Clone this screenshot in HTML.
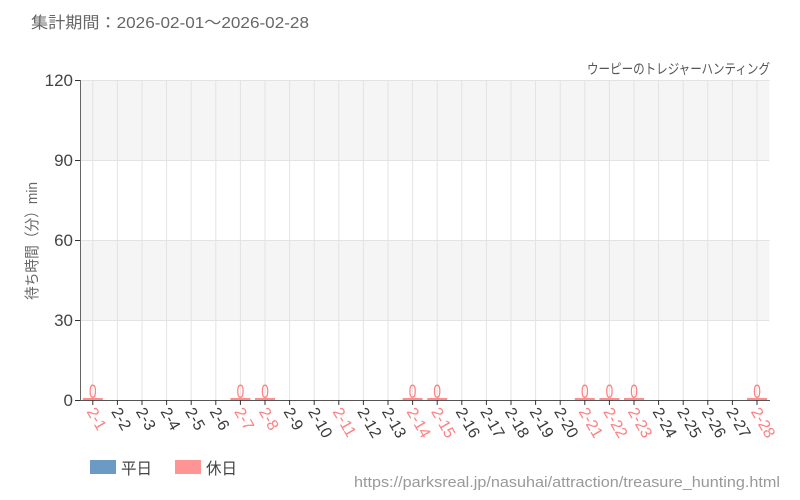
<!DOCTYPE html>
<html><head><meta charset="utf-8"><style>
html,body{margin:0;padding:0;background:#fff;}
svg{display:block;}
text{font-family:"Liberation Sans","Noto Sans CJK JP",sans-serif;}
</style></head><body>
<svg width="800" height="500" viewBox="0 0 800 500" xmlns="http://www.w3.org/2000/svg">
<rect x="0" y="0" width="800" height="500" fill="#fff"/>
<text x="31" y="28" font-size="16" fill="#666" textLength="278" lengthAdjust="spacingAndGlyphs">集計期間：2026-02-01～2026-02-28</text>
<text x="770" y="74" font-size="14" fill="#555" text-anchor="end" textLength="183" lengthAdjust="spacingAndGlyphs">ウーピーのトレジャーハンティング</text>
<rect x="80.5" y="80" width="689" height="80" fill="#f5f5f5"/>
<rect x="80.5" y="240" width="689" height="80" fill="#f5f5f5"/>
<g stroke="#e3e3e3" stroke-width="1">
<line x1="80.5" y1="80.5" x2="769.5" y2="80.5"/>
<line x1="80.5" y1="160.5" x2="769.5" y2="160.5"/>
<line x1="80.5" y1="240.5" x2="769.5" y2="240.5"/>
<line x1="80.5" y1="320.5" x2="769.5" y2="320.5"/>
</g>
<g stroke="#e3e3e3" stroke-width="1">
<line x1="92.8" y1="80" x2="92.8" y2="400"/><line x1="117.4" y1="80" x2="117.4" y2="400"/><line x1="142.0" y1="80" x2="142.0" y2="400"/><line x1="166.6" y1="80" x2="166.6" y2="400"/><line x1="191.2" y1="80" x2="191.2" y2="400"/><line x1="215.8" y1="80" x2="215.8" y2="400"/><line x1="240.4" y1="80" x2="240.4" y2="400"/><line x1="265.0" y1="80" x2="265.0" y2="400"/><line x1="289.6" y1="80" x2="289.6" y2="400"/><line x1="314.2" y1="80" x2="314.2" y2="400"/><line x1="338.8" y1="80" x2="338.8" y2="400"/><line x1="363.4" y1="80" x2="363.4" y2="400"/><line x1="388.0" y1="80" x2="388.0" y2="400"/><line x1="412.6" y1="80" x2="412.6" y2="400"/><line x1="437.2" y1="80" x2="437.2" y2="400"/><line x1="461.8" y1="80" x2="461.8" y2="400"/><line x1="486.4" y1="80" x2="486.4" y2="400"/><line x1="511.0" y1="80" x2="511.0" y2="400"/><line x1="535.6" y1="80" x2="535.6" y2="400"/><line x1="560.2" y1="80" x2="560.2" y2="400"/><line x1="584.8" y1="80" x2="584.8" y2="400"/><line x1="609.4" y1="80" x2="609.4" y2="400"/><line x1="634.0" y1="80" x2="634.0" y2="400"/><line x1="658.6" y1="80" x2="658.6" y2="400"/><line x1="683.2" y1="80" x2="683.2" y2="400"/><line x1="707.8" y1="80" x2="707.8" y2="400"/><line x1="732.4" y1="80" x2="732.4" y2="400"/><line x1="757.0" y1="80" x2="757.0" y2="400"/>
</g>
<line x1="80.5" y1="80" x2="80.5" y2="400" stroke="#666" stroke-width="1"/>
<line x1="80" y1="400.5" x2="770" y2="400.5" stroke="#555" stroke-width="1"/>
<g stroke="#333" stroke-width="1">
<line x1="75" y1="80.5" x2="80" y2="80.5"/>
<line x1="75" y1="160.5" x2="80" y2="160.5"/>
<line x1="75" y1="240.5" x2="80" y2="240.5"/>
<line x1="75" y1="320.5" x2="80" y2="320.5"/>
<line x1="75" y1="400.5" x2="80" y2="400.5"/>
</g>
<g font-size="17" fill="#444" text-anchor="end">
<text x="73" y="86">120</text>
<text x="73" y="166">90</text>
<text x="73" y="246">60</text>
<text x="73" y="326">30</text>
<text x="73" y="406">0</text>
</g>
<text transform="translate(37,241) rotate(-90)" font-size="15" fill="#666" text-anchor="middle" textLength="118" lengthAdjust="spacingAndGlyphs">待ち時間（分）min</text>
<g stroke="#333" stroke-width="1">
<line x1="92.8" y1="400" x2="92.8" y2="405"/><line x1="117.4" y1="400" x2="117.4" y2="405"/><line x1="142.0" y1="400" x2="142.0" y2="405"/><line x1="166.6" y1="400" x2="166.6" y2="405"/><line x1="191.2" y1="400" x2="191.2" y2="405"/><line x1="215.8" y1="400" x2="215.8" y2="405"/><line x1="240.4" y1="400" x2="240.4" y2="405"/><line x1="265.0" y1="400" x2="265.0" y2="405"/><line x1="289.6" y1="400" x2="289.6" y2="405"/><line x1="314.2" y1="400" x2="314.2" y2="405"/><line x1="338.8" y1="400" x2="338.8" y2="405"/><line x1="363.4" y1="400" x2="363.4" y2="405"/><line x1="388.0" y1="400" x2="388.0" y2="405"/><line x1="412.6" y1="400" x2="412.6" y2="405"/><line x1="437.2" y1="400" x2="437.2" y2="405"/><line x1="461.8" y1="400" x2="461.8" y2="405"/><line x1="486.4" y1="400" x2="486.4" y2="405"/><line x1="511.0" y1="400" x2="511.0" y2="405"/><line x1="535.6" y1="400" x2="535.6" y2="405"/><line x1="560.2" y1="400" x2="560.2" y2="405"/><line x1="584.8" y1="400" x2="584.8" y2="405"/><line x1="609.4" y1="400" x2="609.4" y2="405"/><line x1="634.0" y1="400" x2="634.0" y2="405"/><line x1="658.6" y1="400" x2="658.6" y2="405"/><line x1="683.2" y1="400" x2="683.2" y2="405"/><line x1="707.8" y1="400" x2="707.8" y2="405"/><line x1="732.4" y1="400" x2="732.4" y2="405"/><line x1="757.0" y1="400" x2="757.0" y2="405"/>
</g>
<rect x="90" y="460" width="26" height="14" fill="#6b9bc4"/>
<text x="121" y="474" font-size="16" fill="#444" textLength="31" lengthAdjust="spacingAndGlyphs">平日</text>
<rect x="175" y="460" width="26" height="14" fill="#ff9494"/>
<text x="206" y="474" font-size="16" fill="#444" textLength="31" lengthAdjust="spacingAndGlyphs">休日</text>
<text x="780" y="487" font-size="15" fill="#999" text-anchor="end" textLength="426" lengthAdjust="spacingAndGlyphs">https://parksreal.jp/nasuhai/attraction/treasure_hunting.html</text>
<g fill="#ff8f8f">
<rect x="82.8" y="398" width="20" height="2"/><rect x="230.4" y="398" width="20" height="2"/><rect x="255.0" y="398" width="20" height="2"/><rect x="402.6" y="398" width="20" height="2"/><rect x="427.2" y="398" width="20" height="2"/><rect x="574.8" y="398" width="20" height="2"/><rect x="599.4" y="398" width="20" height="2"/><rect x="624.0" y="398" width="20" height="2"/><rect x="747.0" y="398" width="20" height="2"/>
</g>
<g font-size="19" fill="#ff8080" text-anchor="middle">
<text transform="translate(92.8,398) scale(0.72,1)">0</text>
<text transform="translate(240.4,398) scale(0.72,1)">0</text>
<text transform="translate(265.0,398) scale(0.72,1)">0</text>
<text transform="translate(412.6,398) scale(0.72,1)">0</text>
<text transform="translate(437.2,398) scale(0.72,1)">0</text>
<text transform="translate(584.8,398) scale(0.72,1)">0</text>
<text transform="translate(609.4,398) scale(0.72,1)">0</text>
<text transform="translate(634.0,398) scale(0.72,1)">0</text>
<text transform="translate(757.0,398) scale(0.72,1)">0</text>
</g>
<g font-size="16" fill="#3a3a3a">
<text transform="translate(86.3,411.5) rotate(60)" fill="#ff8080">2-1</text>
<text transform="translate(110.9,411.5) rotate(60)">2-2</text>
<text transform="translate(135.5,411.5) rotate(60)">2-3</text>
<text transform="translate(160.1,411.5) rotate(60)">2-4</text>
<text transform="translate(184.7,411.5) rotate(60)">2-5</text>
<text transform="translate(209.3,411.5) rotate(60)">2-6</text>
<text transform="translate(233.9,411.5) rotate(60)" fill="#ff8080">2-7</text>
<text transform="translate(258.5,411.5) rotate(60)" fill="#ff8080">2-8</text>
<text transform="translate(283.1,411.5) rotate(60)">2-9</text>
<text transform="translate(307.7,411.5) rotate(60)">2-10</text>
<text transform="translate(332.3,411.5) rotate(60)" fill="#ff8080">2-11</text>
<text transform="translate(356.9,411.5) rotate(60)">2-12</text>
<text transform="translate(381.5,411.5) rotate(60)">2-13</text>
<text transform="translate(406.1,411.5) rotate(60)" fill="#ff8080">2-14</text>
<text transform="translate(430.7,411.5) rotate(60)" fill="#ff8080">2-15</text>
<text transform="translate(455.3,411.5) rotate(60)">2-16</text>
<text transform="translate(479.9,411.5) rotate(60)">2-17</text>
<text transform="translate(504.5,411.5) rotate(60)">2-18</text>
<text transform="translate(529.1,411.5) rotate(60)">2-19</text>
<text transform="translate(553.7,411.5) rotate(60)">2-20</text>
<text transform="translate(578.3,411.5) rotate(60)" fill="#ff8080">2-21</text>
<text transform="translate(602.9,411.5) rotate(60)" fill="#ff8080">2-22</text>
<text transform="translate(627.5,411.5) rotate(60)" fill="#ff8080">2-23</text>
<text transform="translate(652.1,411.5) rotate(60)">2-24</text>
<text transform="translate(676.7,411.5) rotate(60)">2-25</text>
<text transform="translate(701.3,411.5) rotate(60)">2-26</text>
<text transform="translate(725.9,411.5) rotate(60)">2-27</text>
<text transform="translate(750.5,411.5) rotate(60)" fill="#ff8080">2-28</text>
</g>
</svg>
</body></html>
